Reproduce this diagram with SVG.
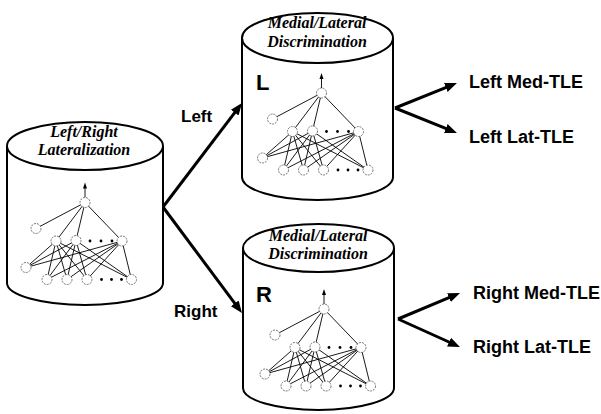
<svg xmlns="http://www.w3.org/2000/svg" xmlns:xlink="http://www.w3.org/1999/xlink" width="601" height="414" viewBox="0 0 601 414">
<style>
.cyl{fill:#fff;stroke:#000;stroke-width:2}
.title{font-family:"Liberation Serif","Times New Roman",serif;font-style:italic;font-weight:bold;font-size:16px;text-anchor:middle;fill:#000}
.lbl{font-family:"Liberation Sans",Arial,sans-serif;font-weight:bold;fill:#000}
.big{font-family:"Liberation Sans",Arial,sans-serif;font-weight:bold;font-size:22px;fill:#000}
.arrow{stroke:#000;stroke-width:3;fill:none}
.nl{stroke:#000;stroke-width:0.9}
.nc{fill:#fff;stroke:#666;stroke-width:0.9;stroke-dasharray:2 1}
.dot{fill:#000}
</style>
<defs>
<marker id="ah" viewBox="0 0 10 10" refX="6" refY="5" markerWidth="4" markerHeight="4" orient="auto">
<path d="M0,1 L10,5 L0,9 z" fill="#000"/>
</marker>
<g id="net">
<line class="nl" x1="0" y1="-5" x2="0" y2="-15"/>
<polygon points="0,-20 -2,-14 2,-14" fill="#000"/>
<g class="nl">
<line x1="0" y1="0" x2="-49" y2="26"/>
<line x1="0" y1="0" x2="-29" y2="38.5"/>
<line x1="0" y1="0" x2="-9" y2="38"/>
<line x1="0" y1="0" x2="37" y2="38.5"/>
<line x1="-29" y1="38.5" x2="-59" y2="65"/>
<line x1="-29" y1="38.5" x2="-38" y2="77"/>
<line x1="-29" y1="38.5" x2="-18" y2="77"/>
<line x1="-29" y1="38.5" x2="2" y2="77"/>
<line x1="-29" y1="38.5" x2="46.5" y2="77"/>
<line x1="-9" y1="38" x2="-59" y2="65"/>
<line x1="-9" y1="38" x2="-38" y2="77"/>
<line x1="-9" y1="38" x2="-18" y2="77"/>
<line x1="-9" y1="38" x2="2" y2="77"/>
<line x1="-9" y1="38" x2="46.5" y2="77"/>
<line x1="37" y1="38.5" x2="-59" y2="65"/>
<line x1="37" y1="38.5" x2="-38" y2="77"/>
<line x1="37" y1="38.5" x2="-18" y2="77"/>
<line x1="37" y1="38.5" x2="2" y2="77"/>
<line x1="37" y1="38.5" x2="46.5" y2="77"/>
</g>
<g class="nc">
<circle cx="0" cy="0" r="5"/>
<circle cx="-49" cy="26" r="5"/>
<circle cx="-29" cy="38.5" r="5"/>
<circle cx="-9" cy="38" r="5"/>
<circle cx="37" cy="38.5" r="5"/>
<circle cx="-59" cy="65" r="5"/>
<circle cx="-38" cy="77" r="5"/>
<circle cx="-18" cy="77" r="5"/>
<circle cx="2" cy="77" r="5"/>
<circle cx="46.5" cy="77" r="5"/>
</g>
<g class="dot">
<circle cx="5" cy="38.5" r="1.4"/>
<circle cx="16" cy="38.5" r="1.4"/>
<circle cx="27" cy="38.5" r="1.4"/>
<circle cx="16.5" cy="77" r="1.4"/>
<circle cx="26.5" cy="77" r="1.4"/>
<circle cx="36.5" cy="77" r="1.4"/>
</g>
</g>
</defs>

<g id="connectors">
<line class="arrow" x1="163" y1="207" x2="239.1" y2="106.8" marker-end="url(#ah)"/>
<line class="arrow" x1="163" y1="207" x2="239.1" y2="309.2" marker-end="url(#ah)"/>
<line class="arrow" x1="395" y1="108" x2="452.5" y2="84.8" marker-end="url(#ah)"/>
<line class="arrow" x1="395" y1="108" x2="452.5" y2="131.2" marker-end="url(#ah)"/>
<line class="arrow" x1="398" y1="319" x2="455.6" y2="294.9" marker-end="url(#ah)"/>
<line class="arrow" x1="398" y1="319" x2="455.6" y2="345" marker-end="url(#ah)"/>
<text class="lbl" x="181" y="122" font-size="17">Left</text>
<text class="lbl" x="174" y="317" font-size="17">Right</text>
</g>

<g id="lateralization">
<path class="cyl" d="M7,146 L7,283 A78,22 0 0 0 163,283 L163,146"/>
<ellipse class="cyl" cx="85" cy="146" rx="78" ry="24"/>
<text class="title" x="84" y="137">Left/Right</text>
<text class="title" x="84" y="155">Lateralization</text>
<use xlink:href="#net" href="#net" transform="translate(85,202.5)"/>
</g>

<g id="discrimination-left">
<path class="cyl" d="M242,38 L242,177 A75.5,23 0 0 0 393,177 L393,38"/>
<ellipse class="cyl" cx="317.5" cy="38" rx="75.5" ry="25"/>
<text class="title" x="317" y="28">Medial/Lateral</text>
<text class="title" x="317" y="47">Discrimination</text>
<text class="big" x="256" y="90">L</text>
<use xlink:href="#net" href="#net" transform="translate(321.5,93)"/>
</g>

<g id="discrimination-right">
<path class="cyl" d="M243,248 L243,388 A75.5,22 0 0 0 394,388 L394,248"/>
<ellipse class="cyl" cx="318.5" cy="248" rx="75.5" ry="24"/>
<text class="title" x="318" y="241">Medial/Lateral</text>
<text class="title" x="318" y="259">Discrimination</text>
<text class="big" x="256" y="302" font-size="21">R</text>
<use xlink:href="#net" href="#net" transform="translate(324,309)"/>
</g>

<g id="left-med-tle"><text class="lbl" x="469" y="88" font-size="18">Left Med-TLE</text></g>
<g id="left-lat-tle"><text class="lbl" x="469" y="143" font-size="18">Left Lat-TLE</text></g>
<g id="right-med-tle"><text class="lbl" x="473" y="299" font-size="18">Right Med-TLE</text></g>
<g id="right-lat-tle"><text class="lbl" x="473" y="353" font-size="18">Right Lat-TLE</text></g>
</svg>
